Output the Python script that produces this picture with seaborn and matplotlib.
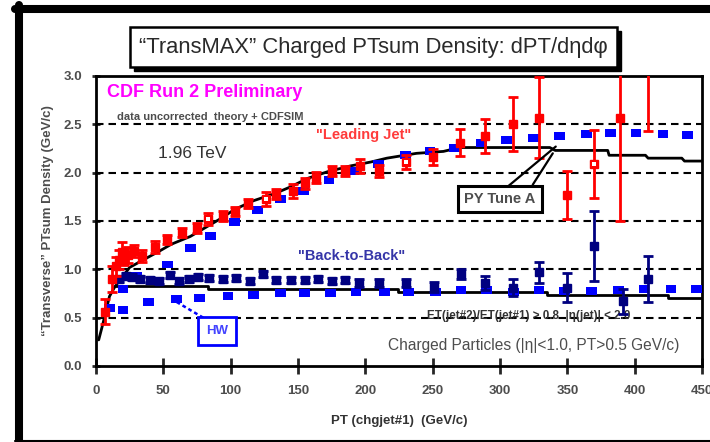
import numpy as np
import pandas as pd
import matplotlib
matplotlib.use("Agg")
import matplotlib.pyplot as plt
import seaborn as sns
from matplotlib.patches import Rectangle
from matplotlib.lines import Line2D

# ---------------- data ----------------
red_x = [7, 12, 15, 17, 19, 21, 24, 28, 34, 44, 53, 64, 75, 83, 94, 103, 113, 126, 134, 146,
         155, 163, 175, 185, 196, 210, 230, 250, 270, 289, 310, 329, 350, 370, 389, 410]
red_y = [0.56, 0.90, 1.03, 1.10, 1.18, 1.12, 1.15, 1.19, 1.14, 1.23, 1.31, 1.38, 1.43, 1.52, 1.55, 1.60,
         1.68, 1.73, 1.78, 1.81, 1.89, 1.95, 2.02, 2.02, 2.07, 2.02, 2.11, 2.16, 2.31, 2.38, 2.50, 2.57,
         1.77, 2.09, 2.57, 3.15]
red_err = [0.13, 0.13, 0.10, 0.10, 0.10, 0.08, 0.08, 0.06, 0.06, 0.06, 0.05, 0.05, 0.05, 0.06, 0.05, 0.05,
           0.05, 0.07, 0.05, 0.07, 0.06, 0.06, 0.05, 0.05, 0.07, 0.06, 0.07, 0.08, 0.14, 0.18, 0.28, 0.42,
           0.25, 0.35, 1.07, 0.72]
red_open = [False] * 13 + [True] + [False] * 3 + [True] + [False] * 8 + [True] + [False] * 6 + [True] + [False] * 2

navy_x = [17, 22, 27, 33, 40, 47, 55, 62, 69, 76, 84, 94, 104, 114, 124, 134, 145, 155, 165, 175, 185,
          195, 210, 230, 251, 271, 289, 310, 329, 350, 370, 391, 410]
navy_y = [0.90, 0.93, 0.92, 0.90, 0.89, 0.88, 0.94, 0.88, 0.90, 0.92, 0.91, 0.90, 0.91, 0.88, 0.95, 0.89,
          0.89, 0.89, 0.90, 0.88, 0.89, 0.86, 0.86, 0.86, 0.82, 0.95, 0.86, 0.81, 0.97, 0.81, 1.24, 0.67, 0.90]
navy_err = [0.03] * 21 + [0.04, 0.04, 0.04, 0.05, 0.05, 0.07, 0.09, 0.11, 0.15, 0.36, 0.13, 0.24]

hw_lead_x = [10, 20, 30, 53, 70, 85, 103, 120, 137, 154, 173, 191, 210, 230, 248, 266, 286, 305, 325,
             344, 364, 382, 401, 421, 439]
hw_lead_y = [0.60, 0.80, 0.93, 1.05, 1.22, 1.34, 1.49, 1.61, 1.73, 1.81, 1.92, 2.02, 2.09, 2.18, 2.22,
             2.26, 2.31, 2.34, 2.36, 2.38, 2.40, 2.41, 2.41, 2.40, 2.39]

hw_b2b_x = [10, 20, 39, 60, 77, 98, 117, 137, 155, 174, 193, 214, 232, 252, 271, 290, 310, 329, 348,
            368, 388, 407, 427, 446]
hw_b2b_y = [0.60, 0.58, 0.66, 0.69, 0.70, 0.72, 0.73, 0.76, 0.76, 0.76, 0.77, 0.77, 0.77, 0.77, 0.79,
            0.79, 0.77, 0.79, 0.78, 0.78, 0.79, 0.80, 0.80, 0.80]

py_lead_x = [2, 5, 10, 14, 25, 38, 46, 56, 70, 81, 92, 103, 117, 132, 144, 157, 172, 189, 204, 216, 238,
             258, 270, 337, 341, 380, 381, 408, 410, 435, 437, 450]
py_lead_y = [0.27, 0.43, 0.72, 0.82, 1.02, 1.12, 1.18, 1.26, 1.34, 1.43, 1.52, 1.62, 1.71, 1.78, 1.85,
             1.94, 2.01, 2.07, 2.11, 2.15, 2.20, 2.22, 2.26, 2.26, 2.23, 2.23, 2.18, 2.18, 2.15, 2.15,
             2.12, 2.12]

py_b2b_x = [14, 83, 83, 224, 224, 335, 335, 425, 425, 450]
py_b2b_y = [0.83, 0.83, 0.80, 0.80, 0.77, 0.77, 0.73, 0.73, 0.70, 0.70]

x_ticks = [0, 50, 100, 150, 200, 250, 300, 350, 400, 450]
y_ticks = [0.0, 0.5, 1.0, 1.5, 2.0, 2.5, 3.0]

title = "\u201cTransMAX\u201d Charged PTsum Density: dPT/d\u03b7d\u03c6"
xlabel = "PT (chgjet#1)  (GeV/c)"
ylabel = "\u201cTransverse\u201d PTsum Density (GeV/c)"

# ---------------- style ----------------
sns.set_theme(style="white")
plt.rcParams["font.family"] = ["Liberation Sans", "DejaVu Sans"]

W, H = 710, 442
fig = plt.figure(figsize=(W / 100, H / 100), dpi=100)
ax = fig.add_axes([96 / W, 1 - 366 / H, (702 - 96) / W, (366 - 76) / H])

GREY = "#4d4d4d"

# grid (horizontal dashed)
for yv in y_ticks[1:-1]:
    ax.axhline(yv, color="black", lw=1.5, dashes=(3.6, 2.4), zorder=1)

df_py_lead = pd.DataFrame({"x": py_lead_x, "y": py_lead_y})
df_py_b2b = pd.DataFrame({"x": py_b2b_x, "y": py_b2b_y})
sns.lineplot(data=df_py_lead, x="x", y="y", sort=False, estimator=None, color="black", lw=2.0, ax=ax, zorder=3)
sns.lineplot(data=df_py_b2b, x="x", y="y", sort=False, estimator=None, color="black", lw=2.0, ax=ax, zorder=3)

rect_marker = [(-1.35, -1), (1.35, -1), (1.35, 1), (-1.35, 1), (-1.35, -1)]
sns.scatterplot(x=hw_lead_x, y=hw_lead_y, marker=rect_marker, s=60, color="#0000ff", edgecolor="none",
                ax=ax, zorder=4)
sns.scatterplot(x=hw_b2b_x, y=hw_b2b_y, marker=rect_marker, s=60, color="#0000ff", edgecolor="none",
                ax=ax, zorder=4)

ax.errorbar(navy_x, navy_y, yerr=navy_err, fmt="s", color="#000080", ms=6, capsize=3.5,
            elinewidth=2, capthick=2, zorder=5)
ax.errorbar(red_x, red_y, yerr=red_err, fmt="s", color="#ff0000", ms=6, capsize=3.5,
            elinewidth=2, capthick=2, zorder=6)
ox = [x for x, o in zip(red_x, red_open) if o]
oy = [y for y, o in zip(red_y, red_open) if o]
ax.scatter(ox, oy, marker="s", s=6, color="white", zorder=7, linewidths=0)

ax.set_xlim(0, 450)
ax.set_ylim(0, 3.0)
ax.set_xticks(x_ticks)
ax.set_yticks(y_ticks)
ax.set_xticklabels([str(v) for v in x_ticks])
ax.set_yticklabels([f"{v:.1f}" for v in y_ticks])
ax.tick_params(axis="x", direction="inout", length=11, width=2, pad=8, labelsize=9.5,
               labelcolor=GREY, bottom=True)
ax.tick_params(axis="y", direction="inout", length=6, width=2, pad=7, labelsize=9.5,
               labelcolor=GREY, left=True)
for lab in ax.get_xticklabels() + ax.get_yticklabels():
    lab.set_fontweight("bold")
for sp in ax.spines.values():
    sp.set_color("black")
    sp.set_linewidth(2.0)
ax.set_xlabel(xlabel, fontsize=9.5, fontweight="bold", color="#333333", labelpad=13)
ax.set_ylabel(ylabel, fontsize=9.5, fontweight="bold", color=GREY, labelpad=7)
ax.grid(False)

# text annotations inside the axes
ax.text(8.2, 2.83, "CDF Run 2 Preliminary", color="#ff00ff", fontsize=13, fontweight="bold",
        va="center", ha="left")
ax.text(15.6, 2.58, "data uncorrected  theory + CDFSIM", color=GREY, fontsize=8, fontweight="bold",
        va="center", ha="left")
ax.text(46, 2.20, "1.96 TeV", color="#333333", fontsize=12.5, va="center", ha="left")
ax.text(163, 2.385, "\"Leading Jet\"", color="#ff3b3b", fontsize=10.5, fontweight="bold",
        va="center", ha="left")
ax.text(150, 1.135, "\"Back-to-Back\"", color="#3535a8", fontsize=10.5, fontweight="bold",
        va="center", ha="left")
ax.text(245.5, 0.52, "ET(jet#2)/ET(jet#1) > 0.8  |\u03b7(jet)| < 2.0", color="#333333", fontsize=8.4,
        fontweight="bold", va="center", ha="left")
ax.text(217, 0.21, "Charged Particles (|\u03b7|<1.0, PT>0.5 GeV/c)", color=GREY, fontsize=11.2,
        va="center", ha="left")

# PY Tune A label box with leader lines
ax.plot([306.5, 341.4], [1.865, 2.27], color="black", lw=1.6, zorder=8)
ax.plot([324.3, 339.2], [1.875, 2.20], color="black", lw=1.6, zorder=8)
ax.text(300, 1.725, "PY Tune A", color=GREY, fontsize=10.5, fontweight="bold", ha="center", va="center",
        zorder=9, bbox=dict(boxstyle="square,pad=0.42", fc="white", ec="black", lw=2.2))

# HW label box with dotted leader
ax.plot([79.6, 56.5], [0.5, 0.69], color="#0000ff", lw=1.8, dashes=(1.5, 1.2), zorder=8)
ax.text(89.6, 0.36, "HW", color="#4444ff", fontsize=9.5, fontweight="bold", ha="center", va="center",
        zorder=9, bbox=dict(boxstyle="square,pad=0.6", fc="white", ec="#0000ff", lw=2.0))


# ---------------- figure decorations (pixel helper) ----------------
def fx(px):
    return px / W


def fy(py):
    return 1 - py / H


# outer frame
fig.add_artist(Line2D([fx(15), fx(712)], [fy(9), fy(9)], color="black", lw=5.8))
fig.add_artist(Line2D([fx(19), fx(19)], [fy(5), fy(443)], color="black", lw=5.8))
fig.add_artist(Line2D([fx(15), fx(712)], [fy(440.8), fy(440.8)], color="black", lw=1.5))

# title box with shadow
fig.add_artist(Rectangle((fx(134), fy(71)), (617 - 130) / W, 40 / H, transform=fig.transFigure,
                         facecolor="black", edgecolor="black"))
fig.add_artist(Rectangle((fx(130), fy(67)), (617 - 130) / W, 40 / H, transform=fig.transFigure,
                         facecolor="white", edgecolor="black", lw=1.8))
fig.text(fx(373.5), fy(47), title, ha="center", va="center", fontsize=15.8, color="#2a2a2a")

fig.savefig("out.png", dpi=100)
